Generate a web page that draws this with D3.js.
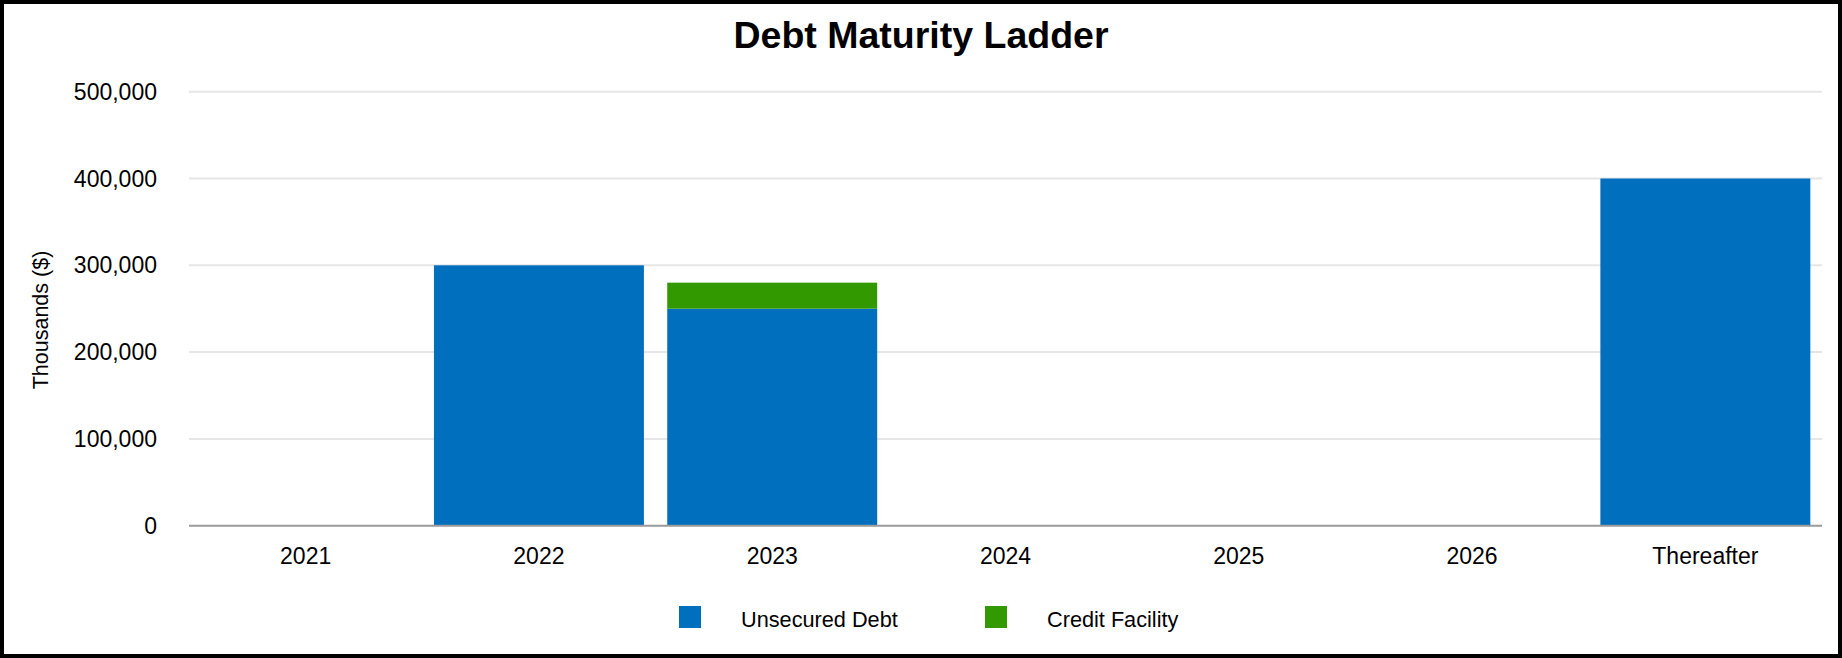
<!DOCTYPE html>
<html>
<head>
<meta charset="utf-8">
<script src="https://cdn.jsdelivr.net/npm/d3@7"></script>
<style>
  html, body { margin: 0; padding: 0; background: #fff; }
  svg { display: block; font-family: "Liberation Sans", Arial, sans-serif; }
</style>
</head>
<body>
<svg id="chart" width="1842" height="658"></svg>
<script>
const categories = ["2021", "2022", "2023", "2024", "2025", "2026", "Thereafter"];
const unsecuredDebt = [0, 300000, 250000, 0, 0, 0, 400000];
const creditFacility = [0, 0, 30000, 0, 0, 0, 0];
const seriesNames = ["Unsecured Debt", "Credit Facility"];
const seriesColors = ["#006fbe", "#339900"];
const yTicks = [0, 100000, 200000, 300000, 400000, 500000];

const W = 1842, H = 658;
const svg = d3.select("#chart");
const margin = { left: 189, right: 20, top: 91.7, bottom: 132.3 };
const plotRight = W - margin.right;
const plotBottom = H - margin.bottom;

// frame
svg.append("rect").attr("x", 2).attr("y", 2).attr("width", W - 4).attr("height", H - 4)
  .attr("fill", "#fff").attr("stroke", "#000").attr("stroke-width", 4);

const x = d3.scaleBand().domain(categories).range([margin.left, plotRight])
  .paddingInner(0.1).paddingOuter(0.05);
const y = d3.scaleLinear().domain([0, 500000]).range([plotBottom, margin.top]);

// gridlines
svg.append("g").selectAll("line").data(yTicks.filter(d => d > 0)).join("line")
  .attr("x1", margin.left).attr("x2", plotRight)
  .attr("y1", d => y(d)).attr("y2", d => y(d))
  .attr("stroke", "#e6e6e6").attr("stroke-width", 2);

// stacked data
const rows = categories.map((c, i) => ({ cat: c, "Unsecured Debt": unsecuredDebt[i], "Credit Facility": creditFacility[i] }));
const stack = d3.stack().keys(seriesNames)(rows);

svg.append("g").selectAll("g").data(stack).join("g")
  .attr("fill", (d, i) => seriesColors[i])
  .selectAll("rect").data(d => d.filter(s => s[1] - s[0] > 0)).join("rect")
  .attr("x", d => x(d.data.cat))
  .attr("width", x.bandwidth())
  .attr("y", d => y(d[1]))
  .attr("height", d => y(d[0]) - y(d[1]));

// baseline
svg.append("line").attr("x1", margin.left).attr("x2", plotRight)
  .attr("y1", y(0)).attr("y2", y(0)).attr("stroke", "#9a9a9a").attr("stroke-width", 2);

// y axis labels
const fmt = d3.format(",");
svg.append("g").selectAll("text").data(yTicks).join("text")
  .attr("x", 157).attr("y", d => y(d))
  .attr("dy", "0.35em").attr("text-anchor", "end")
  .attr("font-size", 23).attr("fill", "#000")
  .text(d => fmt(d));

// x axis labels
svg.append("g").selectAll("text").data(categories).join("text")
  .attr("x", d => x(d) + x.bandwidth() / 2).attr("y", 564)
  .attr("text-anchor", "middle").attr("font-size", 23).attr("fill", "#000")
  .text(d => d);

// y title
svg.append("text").attr("transform", "translate(48,320) rotate(-90)")
  .attr("text-anchor", "middle").attr("font-size", 21.5).attr("fill", "#000")
  .text("Thousands ($)");

// title
svg.append("text").attr("x", 921).attr("y", 48)
  .attr("text-anchor", "middle").attr("font-size", 37.5).attr("font-weight", "bold")
  .attr("fill", "#000").text("Debt Maturity Ladder");

// legend
const legendX = [679, 985];
const lg = svg.append("g").selectAll("g").data(seriesNames).join("g")
  .attr("transform", (d, i) => `translate(${legendX[i]},606)`);
lg.append("rect").attr("width", 22).attr("height", 22).attr("fill", (d, i) => seriesColors[i]);
lg.append("text").attr("x", 62).attr("y", 20.7)
  .attr("font-size", 21.7).attr("fill", "#000").text(d => d);
</script>
</body>
</html>
